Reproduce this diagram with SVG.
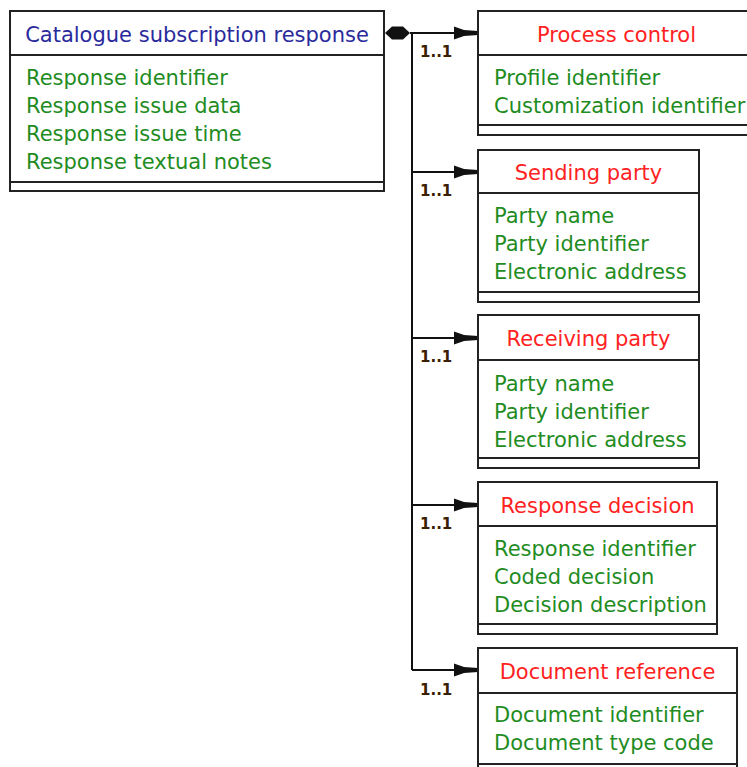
<svg xmlns="http://www.w3.org/2000/svg" width="747" height="767" viewBox="0 0 747 767">
<style>
.box{fill:#fff;stroke:#222;stroke-width:2}
.sep{stroke:#222;stroke-width:2}
.t{font-family:"DejaVu Sans",Verdana,sans-serif;font-size:21px}
.main{fill:#2a2a9c}
.red{fill:#ff2222;text-anchor:middle}
.grn{fill:#1f8c1f}
.lbl{font-family:"DejaVu Sans",Verdana,sans-serif;font-size:15px;font-weight:bold;fill:#3a2000}
.ln{stroke:#111;stroke-width:2;fill:none}
.ah{fill:#111}
</style>
<defs>
<path id="arrow" class="ah" d="M-24,-6.5 L-14,-3 L0,-2 L0,2 L-14,3 L-24,6.5 Z"/>
</defs>
<g id="connectors">
<polygon class="ah" points="385,33 392,26.5 403,26.5 410,33 403,39.5 392,39.5"/>
<path class="ln" d="M410,33 H456 M412,33 V670 M412,172 H456 M412,338 H456 M412,505 H456 M412,670 H456"/>
<use href="#arrow" x="478" y="33"/>
<use href="#arrow" x="478" y="172"/>
<use href="#arrow" x="478" y="338"/>
<use href="#arrow" x="478" y="505"/>
<use href="#arrow" x="478" y="670"/>
<text class="lbl" x="420" y="57">1..1</text>
<text class="lbl" x="420" y="196">1..1</text>
<text class="lbl" x="420" y="362">1..1</text>
<text class="lbl" x="420" y="529">1..1</text>
<text class="lbl" x="420" y="695">1..1</text>
</g>
<g id="catalogue-subscription-response">
<rect class="box" x="10" y="11" width="374" height="180"/>
<line class="sep" x1="10" y1="55" x2="384" y2="55"/>
<line class="sep" x1="10" y1="182" x2="384" y2="182"/>
<text class="t main" x="197" y="42" text-anchor="middle">Catalogue subscription response</text>
<text class="t grn" x="26" y="85">Response identifier</text>
<text class="t grn" x="26" y="113">Response issue data</text>
<text class="t grn" x="26" y="141">Response issue time</text>
<text class="t grn" x="26" y="169">Response textual notes</text>
</g>
<g id="process-control">
<rect class="box" x="478" y="11" width="277" height="124"/>
<line class="sep" x1="478" y1="55" x2="755" y2="55"/>
<line class="sep" x1="478" y1="125" x2="755" y2="125"/>
<text class="t red" x="616.5" y="42">Process control</text>
<text class="t grn" x="494" y="85">Profile identifier</text>
<text class="t grn" x="494" y="113">Customization identifier</text>
</g>
<g id="sending-party">
<rect class="box" x="478" y="150" width="221" height="152"/>
<line class="sep" x1="478" y1="193" x2="699" y2="193"/>
<line class="sep" x1="478" y1="292" x2="699" y2="292"/>
<text class="t red" x="588.5" y="180">Sending party</text>
<text class="t grn" x="494" y="223">Party name</text>
<text class="t grn" x="494" y="251">Party identifier</text>
<text class="t grn" x="494" y="279">Electronic address</text>
</g>
<g id="receiving-party">
<rect class="box" x="478" y="315" width="221" height="153"/>
<line class="sep" x1="478" y1="360" x2="699" y2="360"/>
<line class="sep" x1="478" y1="458" x2="699" y2="458"/>
<text class="t red" x="588.5" y="346">Receiving party</text>
<text class="t grn" x="494" y="391">Party name</text>
<text class="t grn" x="494" y="419">Party identifier</text>
<text class="t grn" x="494" y="447">Electronic address</text>
</g>
<g id="response-decision">
<rect class="box" x="478" y="482" width="239" height="152"/>
<line class="sep" x1="478" y1="526" x2="717" y2="526"/>
<line class="sep" x1="478" y1="624" x2="717" y2="624"/>
<text class="t red" x="597.5" y="513">Response decision</text>
<text class="t grn" x="494" y="556">Response identifier</text>
<text class="t grn" x="494" y="584">Coded decision</text>
<text class="t grn" x="494" y="612">Decision description</text>
</g>
<g id="document-reference">
<rect class="box" x="478" y="648" width="259" height="130"/>
<line class="sep" x1="478" y1="693" x2="737" y2="693"/>
<line class="sep" x1="478" y1="764" x2="737" y2="764"/>
<text class="t red" x="607.5" y="679">Document reference</text>
<text class="t grn" x="494" y="722">Document identifier</text>
<text class="t grn" x="494" y="750">Document type code</text>
</g>
</svg>
